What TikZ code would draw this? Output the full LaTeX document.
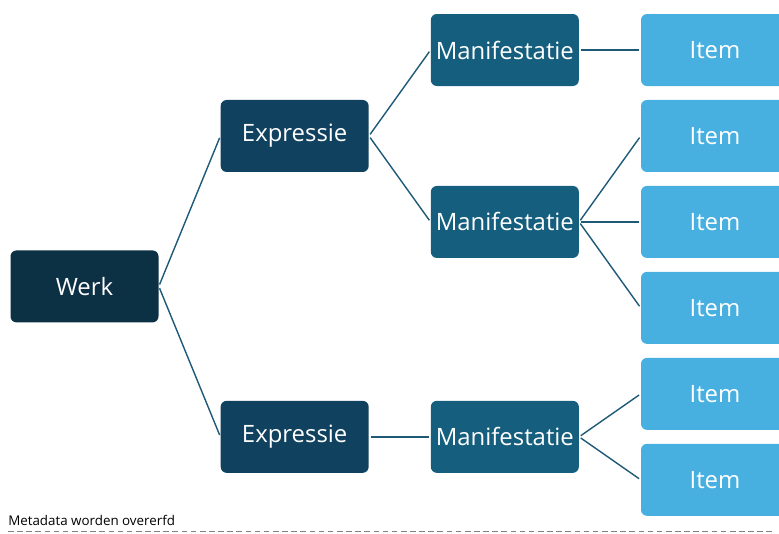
\documentclass[tikz,border=0pt]{standalone}
\usepackage{fontspec}
\setmainfont{Open Sans}
\usetikzlibrary{positioning,calc}
\definecolor{werkblue}{HTML}{0C3044}
\definecolor{exprblue}{HTML}{104260}
\definecolor{manblue}{HTML}{155E7E}
\definecolor{itemblue}{HTML}{47B0E0}
\definecolor{linkblue}{HTML}{1E5A78}
\begin{document}
\begin{tikzpicture}[
        node distance=0.335cm and 1.54cm,
        every node/.style={align=center, font=\fontsize{17}{20}\selectfont, text=white},
        box/.style={rectangle, rounded corners=0.15cm, minimum width=3.7cm, minimum height=1.8cm, inner sep=0pt},
        werk/.style={box, fill=werkblue},
        expressie/.style={box, fill=exprblue},
        manifestatie/.style={box, fill=manblue},
        item/.style={box, fill=itemblue},
        link/.style={draw=linkblue, line width=1pt, shorten <=0.05cm, shorten >=0.05cm}
    ]
    \useasboundingbox (0,0) rectangle (19.475,-13.325);
    \clip (0,0) rectangle (19.475,-13.325);

    % Items
    \node (item1) [item] at (17.875,-1.25) {Item};
    \node (item2) [item, below=of item1] {Item};
    \node (item3) [item, below=of item2] {Item};
    \node (item4) [item, below=of item3] {Item};
    \node (item5) [item, below=of item4] {Item};
    \node (item6) [item, below=of item5] {Item};
    \coordinate (mid56) at ($(item5.west)!0.5!(item6.west)$);

    % Manifestaties
    \node (man1) [manifestatie, left=of item1] {Manifestatie};
    \node (man2) [manifestatie, left=of item3] {Manifestatie};
    \node (man3) [manifestatie, left=of mid56] {Manifestatie};
    \coordinate (mid12) at ($(man1.west)!0.5!(man2.west)$);

    % Expressies
    \node (expr1) [expressie, left=of mid12] {Expressie};
    \node (expr2) [expressie, left=of man3] {Expressie};
    \coordinate (midexpr) at ($(expr1.west)!0.5!(expr2.west)$);

    % Werk
    \node (werk) [werk, left=of midexpr] {Werk};

    % Lines
    \draw [link] (werk.east) -- (expr1.west);
    \draw [link] (werk.east) -- (expr2.west);
    \draw [link] (expr1.east) -- (man1.west);
    \draw [link] (expr1.east) -- (man2.west);
    \draw [link] (expr2.east) -- (man3.west);
    \draw [link] (man1.east) -- (item1.west);
    \foreach \i in {2,3,4}
        \draw [link] (man2.east) -- (item\i.west);
    \foreach \i in {5,6}
        \draw [link] (man3.east) -- (item\i.west);

    % Footer
    \node (note) [anchor=base west, inner sep=0pt, text=black, font=\fontsize{9.5}{11}\selectfont] at (0.2,-13.13) {Metadata worden overerfd};
    \coordinate (dashstart) at (0.2,-13.275);
    \coordinate (dashend) at (19.375,-13.275);
    \draw [black!50, line width=0.6pt, dash pattern=on 4pt off 2.5pt] (dashstart) -- (dashend);

\end{tikzpicture}
\end{document}
